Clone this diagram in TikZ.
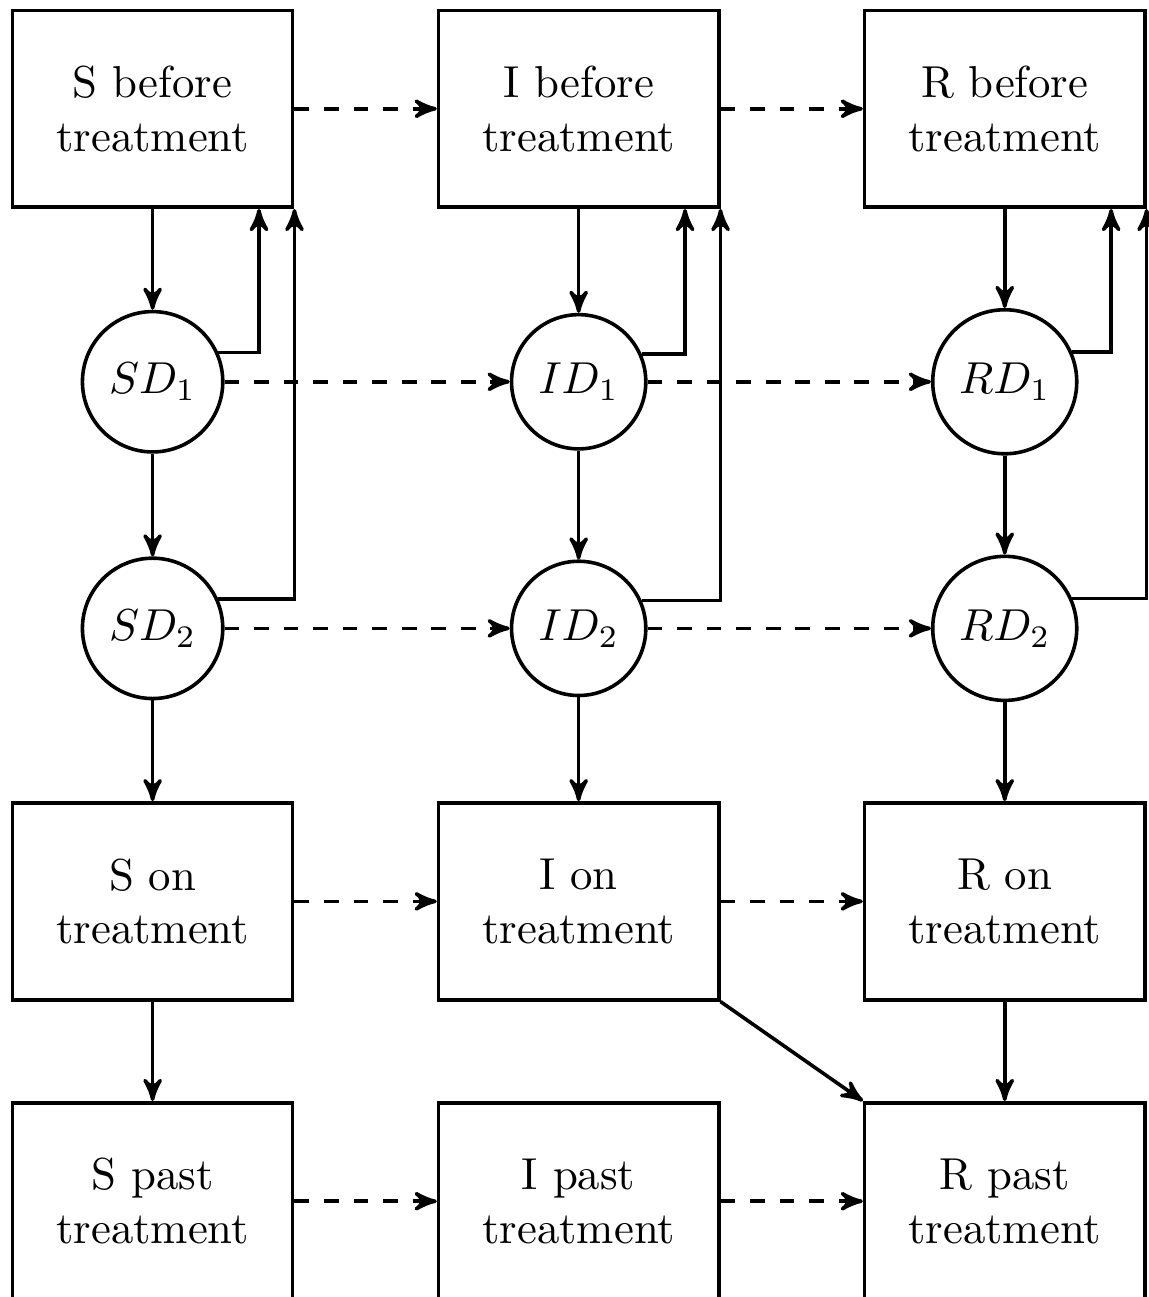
\documentclass[tikz,border=0pt]{standalone}
\usetikzlibrary{positioning,arrows,calc}
\begin{document}
\begin{tikzpicture}[on grid,thick,>=stealth',bx/.style={draw,rectangle,align=center,minimum
					width=2.2cm,minimum height=44pt,inner sep=0pt},cv/.style={draw,circle,inner
					sep=3.8pt},dsh/.style={->,dash pattern=on 3.3pt off 3.3pt}]
		% compartments before treatment
		\node[bx] (Sb) {S before\\treatment};
		\node[bx,right=95.2pt of Sb] (Ib) {I before\\treatment};
		\node[bx,right=95.2pt of Ib] (Rb) {R before\\treatment};
		% decision nodes
		\node[cv,below=61pt of Sb] (SD1) {$SD_1$};
		\node[cv,below=61pt of Ib] (ID1) {$ID_1$};
		\node[cv,below=61pt of Rb] (RD1) {$RD_1$};
		\node[cv,below=55.1pt of SD1] (SD2) {$SD_2$};
		\node[cv,below=55.1pt of ID1] (ID2) {$ID_2$};
		\node[cv,below=55.1pt of RD1] (RD2) {$RD_2$};
		% on and past treatment
		\node[bx,below=61pt of SD2] (So) {S on\\treatment};
		\node[bx,below=61pt of ID2] (Io) {I on\\treatment};
		\node[bx,below=61pt of RD2] (Ro) {R on\\treatment};
		\node[bx,below=67pt of So] (Sp) {S past\\treatment};
		\node[bx,below=67pt of Io] (Ip) {I past\\treatment};
		\node[bx,below=67pt of Ro] (Rp) {R past\\treatment};
		\pgfresetboundingbox
		\useasboundingbox ([xshift=-2.4pt,yshift=1.9pt]Sb.north west) rectangle
		([xshift=0.4pt,yshift=1pt]Rp.south east);
		% downward flow
		\draw[->] (Sb) -- (SD1);
		\draw[->] (SD1) -- (SD2);
		\draw[->] (SD2) -- (So);
		\draw[->] (So) -- (Sp);
		\draw[->] (Ib) -- (ID1);
		\draw[->] (ID1) -- (ID2);
		\draw[->] (ID2) -- (Io);
		\draw[->] (Rb) -- (RD1);
		\draw[->] (RD1) -- (RD2);
		\draw[->] (RD2) -- (Ro);
		\draw[->] (Ro) -- (Rp);
		\draw[->] (Io.south east) -- (Rp.north west);
		% back to before treatment
		\draw[->] (SD1.24) -| ($(Sb.south)!.75!(Sb.south east)$);
		\draw[->] (SD2.24) -| (Sb.south east);
		\draw[->] (ID1.24) -| ($(Ib.south)!.75!(Ib.south east)$);
		\draw[->] (ID2.24) -| (Ib.south east);
		\draw[->] (RD1.24) -| ($(Rb.south)!.75!(Rb.south east)$);
		\draw[->] (RD2.24) -| (Rb.south east);
		% sideways
		\draw[dsh] (Sb) -- (Ib);
		\draw[dsh] (Ib) -- (Rb);
		\draw[dsh] (SD1) -- (ID1);
		\draw[dsh] (ID1) -- (RD1);
		\draw[dsh] (SD2) -- (ID2);
		\draw[dsh] (ID2) -- (RD2);
		\draw[dsh] (So) -- (Io);
		\draw[dsh] (Io) -- (Ro);
		\draw[dsh] (Sp) -- (Ip);
		\draw[dsh] (Ip) -- (Rp);
	\end{tikzpicture}
\end{document}
